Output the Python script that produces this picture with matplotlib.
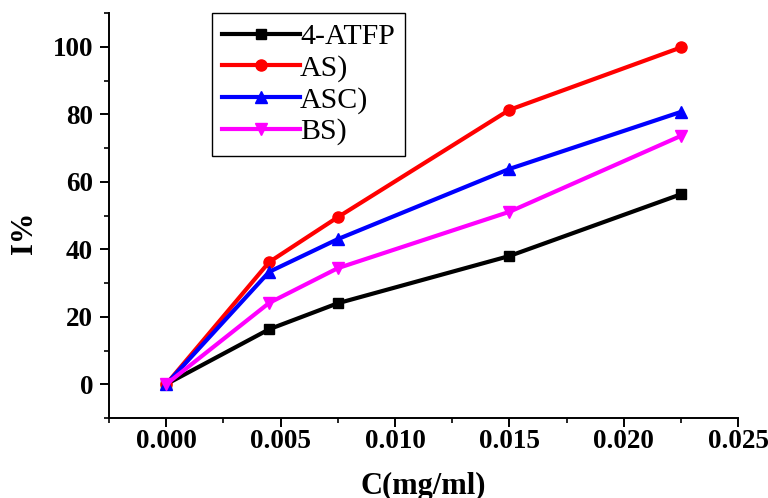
import matplotlib
matplotlib.use("Agg")
import matplotlib.pyplot as plt
from matplotlib.ticker import MultipleLocator, FormatStrFormatter

plt.rcParams['font.family'] = ['Liberation Serif', 'DejaVu Serif']

# Inhibitor concentration (mg/ml)
conc = [0.0, 0.0045, 0.0075, 0.015, 0.0225]

# Inhibition efficiency I% for each inhibitor
atfp = [0.0, 16.3, 24.0, 38.0, 56.3]
as_ = [0.0, 36.2, 49.5, 81.3, 99.8]
asc = [0.0, 33.3, 43.0, 63.8, 80.7]
bs = [0.0, 24.1, 34.4, 51.1, 73.6]

series_labels = ["4-ATFP", "AS)", "ASC)", "BS)"]

fig = plt.figure(figsize=(7.68, 4.98), dpi=100)
ax = fig.add_axes([0.1419, 0.1606, 0.8193, 0.8133])

lw = 3.0
ax.plot(conc, atfp, color='black', marker='s', ms=7, lw=lw, label=series_labels[0])
ax.plot(conc, as_, color='#ff0000', marker='o', ms=8, lw=lw, label=series_labels[1])
ax.plot(conc, asc, color='#0000ff', marker='^', ms=8.5, lw=lw, label=series_labels[2])
ax.plot(conc, bs, color='#ff00ff', marker='v', ms=8.5, lw=lw, label=series_labels[3])

ax.set_xlim(-0.0025, 0.025)
ax.set_ylim(-10, 110)

ax.xaxis.set_major_locator(MultipleLocator(0.005))
ax.xaxis.set_minor_locator(MultipleLocator(0.0025))
ax.xaxis.set_major_formatter(FormatStrFormatter('%.3f'))
ax.yaxis.set_major_locator(MultipleLocator(20))
ax.yaxis.set_minor_locator(MultipleLocator(10))

for side in ('top', 'right'):
    ax.spines[side].set_visible(False)
for side in ('left', 'bottom'):
    ax.spines[side].set_linewidth(1.4)

ax.tick_params(which='major', direction='out', length=6.5, width=1.4, pad=5)
ax.tick_params(axis='x', which='major', pad=1.5)
ax.tick_params(which='minor', direction='out', length=3.5, width=1.2)
for lab in ax.get_xticklabels() + ax.get_yticklabels():
    lab.set_fontsize(19.5)
    lab.set_fontweight('bold')

ax.set_xlabel("C(mg/ml)", fontsize=22, fontweight='bold')
ax.set_ylabel("I%", fontsize=22, fontweight='bold')
ax.xaxis.set_label_coords(0.5, -0.168)
ax.xaxis.label.set_va('center')
ax.yaxis.set_label_coords(-0.135, 0.457)
ax.yaxis.label.set_va('center')

leg = ax.legend(loc='upper left', bbox_to_anchor=(0.1638, 1.0), borderaxespad=0,
                fontsize=21.5, frameon=True, fancybox=False, shadow=False,
                handlelength=2.6, handletextpad=0.0, labelspacing=0.15,
                borderpad=0.35, framealpha=1)
leg.get_frame().set_edgecolor('black')
leg.get_frame().set_linewidth(1.0)

fig.savefig("out.png", dpi=100)
